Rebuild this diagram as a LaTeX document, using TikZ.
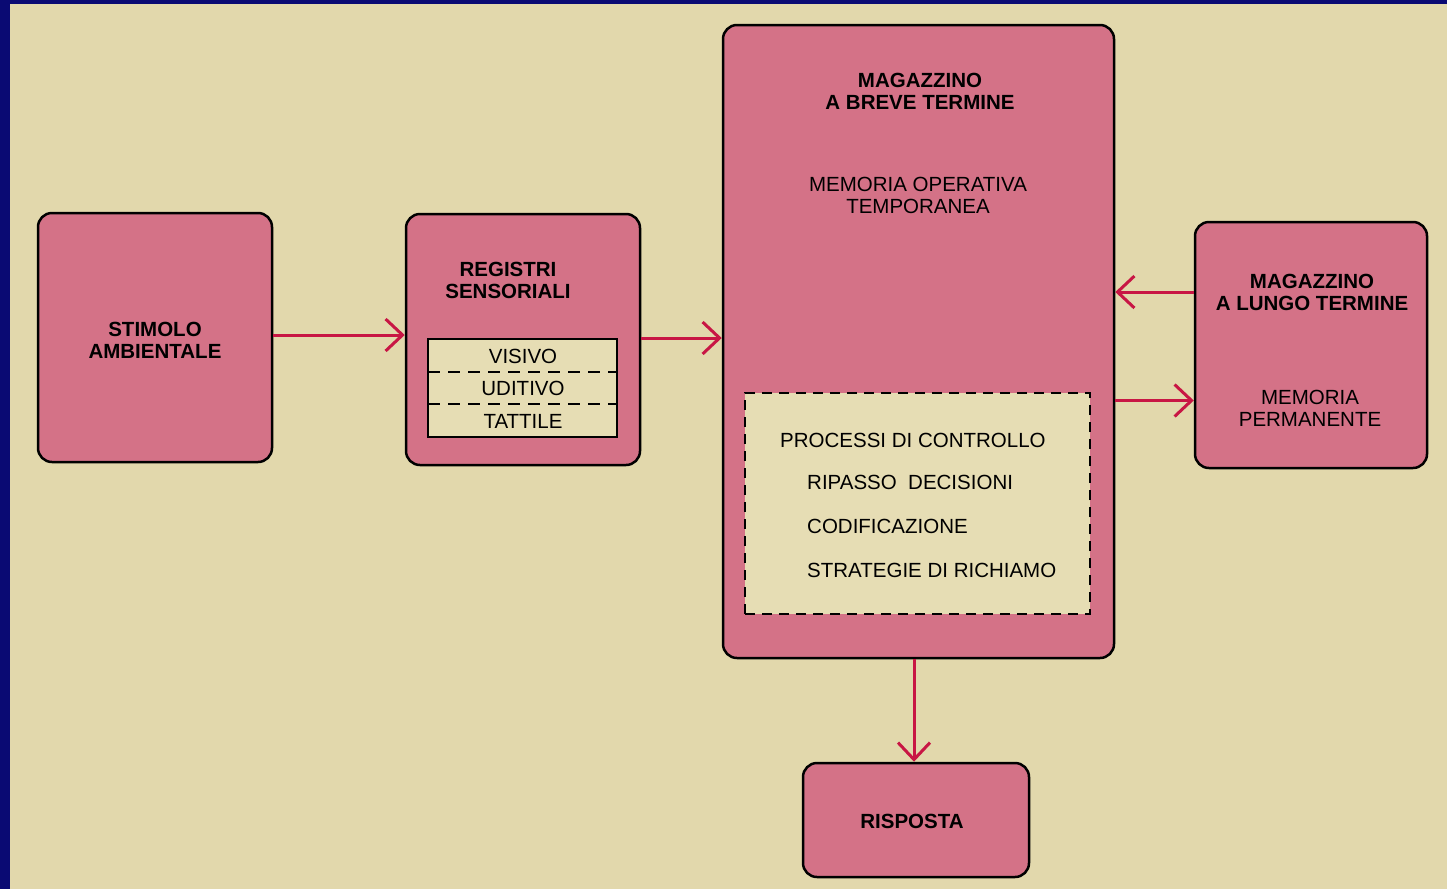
\documentclass[tikz,border=0pt]{standalone}
\usepackage{fontspec}
\setmainfont{Liberation Sans}
\usetikzlibrary{arrows.meta}
\definecolor{navy}{RGB}{10,10,115}
\definecolor{paper}{RGB}{226,216,172}
\definecolor{paperin}{RGB}{230,221,180}
\definecolor{rosa}{RGB}{212,114,135}
\definecolor{arrred}{RGB}{200,22,68}
\tikzset{
  box/.style={draw=black, line width=2.5pt, fill=rosa, rounded corners=14pt, inner sep=0pt},
  inbox/.style={draw=black, line width=2pt, fill=paperin, inner sep=0pt},
  dbox/.style={draw=black, line width=2pt, fill=paperin, dash pattern=on 10pt off 7pt, inner sep=0pt},
  divider/.style={draw=black, line width=1.8pt, dash pattern=on 12pt off 8pt},
  lbl/.style={font=\fontsize{20.5}{22}\selectfont, align=center, inner sep=0pt},
  blbl/.style={lbl, font=\fontsize{20.5}{22}\selectfont\bfseries},
  arr/.style={draw=arrred, line width=3pt, -{Straight Barb[length=17pt,width=32pt,line width=3pt]}},
}
\begin{document}
\begin{tikzpicture}[x=1pt,y=-1pt]
\useasboundingbox (0,0) rectangle (1447,889);
\fill[navy] (0,0) rectangle (1447,889);
\fill[paper] (10,4) rectangle (1447,889);

% boxes
\node[box, minimum width=234pt, minimum height=249pt] (stim) at (155,337.5) {};
\node[box, minimum width=234pt, minimum height=251pt] (reg) at (523,339.5) {};
\node[box, minimum width=391pt, minimum height=633pt] (stm) at (918.5,341.5) {};
\node[box, minimum width=232pt, minimum height=246pt] (lt) at (1311,345) {};
\node[box, minimum width=226pt, minimum height=114pt] (resp) at (916,820) {};

% inner boxes
\node[inbox, minimum width=189pt, minimum height=98pt] (sens) at (522.5,388) {};
\node[dbox, minimum width=345pt, minimum height=221pt] (ctrl) at (917.5,503.5) {};
\coordinate (d1l) at (428,372); \coordinate (d1r) at (617,372);
\coordinate (d2l) at (428,404); \coordinate (d2r) at (617,404);
\draw[divider] (d1l) -- (d1r);
\draw[divider] (d2l) -- (d2r);

% texts
\node[blbl] (tstim) at (155,340) {STIMOLO\\AMBIENTALE};
\node[blbl] (treg) at (508,280) {REGISTRI\\SENSORIALI};
\node[lbl] (tvis) at (523,356) {VISIVO};
\node[lbl] (tudi) at (523,388) {UDITIVO};
\node[lbl] (ttat) at (523,421) {TATTILE};
\node[blbl] (tstm) at (920,91) {MAGAZZINO\\A BREVE TERMINE};
\node[lbl] (tmem) at (918,195) {MEMORIA OPERATIVA\\TEMPORANEA};
\node[lbl, anchor=west] (tp1) at (780,440) {PROCESSI DI CONTROLLO};
\node[lbl, anchor=west] (tp2) at (807,482) {RIPASSO\ \ DECISIONI};
\node[lbl, anchor=west] (tp3) at (807,526) {CODIFICAZIONE};
\node[lbl, anchor=west] (tp4) at (807,570) {STRATEGIE DI RICHIAMO};
\node[blbl] (tlt) at (1312,292) {MAGAZZINO\\A LUNGO TERMINE};
\node[lbl] (tperm) at (1310,408) {MEMORIA\\PERMANENTE};
\node[blbl] (tresp) at (912,821) {RISPOSTA};

% connectors
\coordinate (a1) at ([yshift=2.5pt]stim.east);
\draw[arr] (a1) -- (a1 -| reg.west);
\coordinate (a2) at ([yshift=1.5pt]reg.east);
\draw[arr] (a2) -- (a2 -| stm.west);
\coordinate (a3) at ([yshift=53pt]lt.west);
\draw[arr] (a3) -- (a3 -| stm.east);
\coordinate (a4) at ([yshift=-59pt]stm.east);
\draw[arr] (a4) -- (a4 -| lt.west);
\coordinate (a5) at ([xshift=-2pt]resp.north |- stm.south);
\draw[arr] (a5) -- (a5 |- resp.north);
\end{tikzpicture}
\end{document}
